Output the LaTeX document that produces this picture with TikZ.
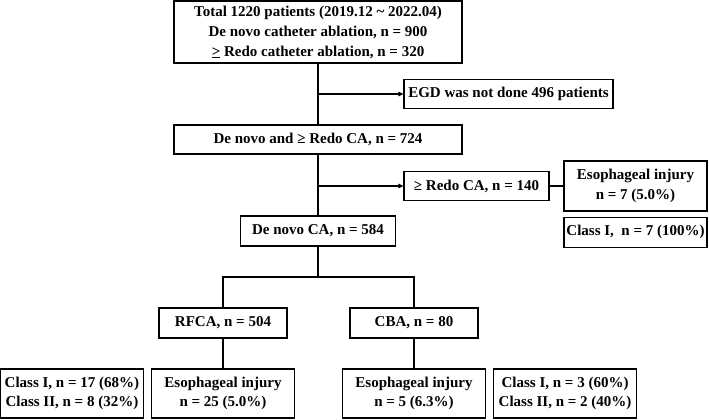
\documentclass[tikz,border=0pt]{standalone}
\usepackage{fontspec}
\setmainfont{Liberation Serif}
\usetikzlibrary{arrows.meta,positioning}

\begin{document}
\begin{tikzpicture}[
  x=1pt, y=-1pt,
  box/.style={rectangle, draw, line width=1.1pt, align=center, inner sep=2pt,
    font=\fontsize{15}{19.5}\selectfont\bfseries},
  wide/.style={box, minimum width=288pt, minimum height=29pt},
  side/.style={box, minimum width=143pt, minimum height=49pt},
  link/.style={line width=1.1pt},
  excl/.style={link, -{Triangle[length=5pt, width=4.5pt]}},
]
  \useasboundingbox (0,0) rectangle (709,420);

  \node[wide, minimum height=62pt, font=\fontsize{15}{20}\selectfont\bfseries] (total) at (318,32)
    {Total 1220 patients (2019.12 \textasciitilde\ 2022.04)\\De novo catheter ablation, n = 900\\
     \underline{>} Redo catheter ablation, n = 320};
  \node[box, minimum width=209pt, minimum height=29pt] (egd) at (508.5,94) {EGD was not done 496 patients};
  \node[wide] (both) at (318,139.5) {De novo and ≥ Redo CA, n = 724};
  \node[box, minimum width=145pt, minimum height=29pt] (redo) at (476.5,186) {≥ Redo CA, n = 140};
  \node[side, minimum height=50pt] (injR) at (635.5,186) {Esophageal injury\\n = 7 (5.0\%)};
  \node[box, minimum width=143pt, minimum height=30pt, below=5pt of injR] (clsR) {Class I,\ \ n = 7 (100\%)};
  \node[box, minimum width=155pt, minimum height=30pt] (denovo) at (318,231) {De novo CA, n = 584};

  \node[box, minimum width=128pt, minimum height=30pt] (rfca) at (223,323) {RFCA, n = 504};
  \node[box, minimum width=128pt, minimum height=30pt] (cba) at (414,323) {CBA, n = 80};

  \node[side] (injA) at (223,393.5) {Esophageal injury\\n = 25 (5.0\%)};
  \node[side, left=7pt of injA] (clsA) {Class I, n = 17 (68\%)\\Class II, n = 8 (32\%)};
  \node[side] (injB) at (414,393.5) {Esophageal injury\\n = 5 (6.3\%)};
  \node[side, right=7pt of injB] (clsB) {Class I, n = 3 (60\%)\\Class II, n = 2 (40\%)};

  \coordinate (egdsplit) at (318,94);
  \coordinate (redosplit) at (318,186);
  \coordinate (split) at (318,277);

  \draw[link] (total) -- (both);
  \draw[excl] (egdsplit) -- (egd.west);
  \draw[link] (both) -- (denovo);
  \draw[excl] (redosplit) -- (redo.west);
  \draw[link] (redo) -- (injR);
  \draw[link] (denovo) -- (split);
  \draw[link] (rfca.north) |- (split) -| (cba.north);
  \draw[link] (rfca) -- (injA);
  \draw[link] (cba) -- (injB);
\end{tikzpicture}
\end{document}
